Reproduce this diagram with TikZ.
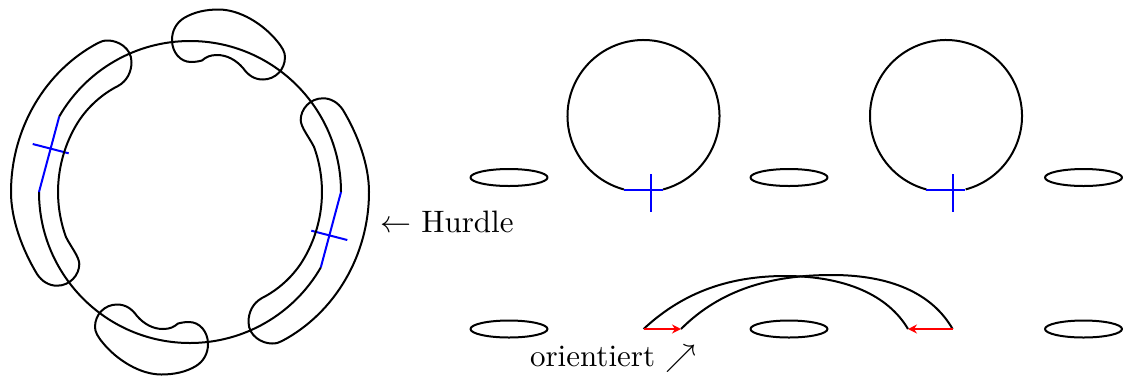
\documentclass[tikz,border=0pt]{standalone}
\usetikzlibrary{arrows.meta,calc}
\tikzset{
  curve/.style={line width=2pt,black,line join=round},
  bluecut/.style={line width=2pt,blue},
  redarrow/.style={line width=2pt,red,-{Stealth[length=9pt,width=9pt,inset=3pt]}},
  label/.style={scale=3.1,inner sep=0pt,outer sep=0pt,anchor=base west}
}
\begin{document}
\begin{tikzpicture}[x=1pt,y=1pt]
\useasboundingbox (0,0) rectangle (1123,-376);
% left diagram: two half-turn symmetric parts
\foreach \rot in {0,180}{
\begin{scope}[rotate around={\rot:(190,-192)}]
  % circle part
  \draw[curve] (190,-192) ++(0:151) arc[start angle=0,end angle=150,radius=151];
  % blue chord and tick
  \draw[bluecut] (190,-192) ++(0:151) -- ($(190,-192)+(-30:151)$);
  \draw[bluecut] (311.3,-230.7) -- (347.3,-240);
  % long band
  \draw[curve] (314,-146.9) arc[start angle=20,end angle=-30,radius=132]
     .. controls (294,-276) and (278,-290) .. (262,-298)
     .. controls (253,-303) and (248.5,-312) .. (248.5,-322)
     .. controls (248.5,-336) and (262,-343.5) .. (272,-343.5)
     .. controls (276,-343.5) and (279,-342.8) .. (282,-341)
     .. controls (335,-313) and (369,-255) .. (369,-192)
     .. controls (369,-165) and (358,-135) .. (343,-110)
     .. controls (338,-102.5) and (331,-98.3) .. (323,-98.3)
     .. controls (310,-98.3) and (300.7,-109) .. (300.7,-120)
     .. controls (300.7,-127) and (309,-137) .. (314,-146.9)
     -- cycle;
  % short band with wobbly inner side
  \draw[curve] (202,-60.5)
     .. controls (198,-61.5) and (195,-62) .. (191,-62)
     .. controls (180,-62) and (172,-52) .. (172,-40)
     .. controls (172,-31) and (176,-23) .. (184,-18)
     .. controls (194,-12) and (206,-9.5) .. (218.5,-9.5)
     .. controls (240,-9.5) and (263,-24) .. (277,-41)
     .. controls (282,-47) and (285,-52) .. (285,-57)
     .. controls (285,-70) and (275,-79.5) .. (263,-79.5)
     .. controls (254,-79.5) and (248,-75) .. (243,-68)
     .. controls (236,-60) and (227,-55) .. (217,-55)
     .. controls (210,-55) and (206,-57) .. (202,-60.5) -- cycle;
\end{scope}
}
\path (380,-232) node[label] (hurdle) {$\leftarrow$ Hurdle};
% top row
\draw[curve] (643.5,-116) ++(-75:76) arc[start angle=-75,end angle=255,radius=76];
\draw[curve] (946,-116) ++(-75:76) arc[start angle=-75,end angle=255,radius=76];
\draw[bluecut] (624,-190) -- (663,-190);
\draw[bluecut] (650.5,-174) -- (650.5,-212);
\draw[bluecut] (926,-190) -- (965,-190);
\draw[bluecut] (953,-174) -- (953,-212);
\foreach \ex/\ey in {509/-177.5,789/-177.5,1083.5/-177.5,509/-329,789/-329,1083.5/-329}{
  \draw[curve] (\ex,\ey) ellipse[x radius=38.5,y radius=8.5];
}
% lower row
\draw[curve] (643.6,-329) .. controls (680,-295) and (725,-276) .. (785,-276)
   .. controls (845,-276) and (888,-295) .. (908,-329);
\draw[curve] (681,-329) .. controls (720,-290) and (770,-275) .. (832,-275)
   .. controls (890,-275) and (932,-293) .. (952.6,-329);
\draw[redarrow] (643.6,-329) -- (681,-329);
\draw[redarrow] (952.6,-329) -- (908,-329);
\path (530,-366.5) node[label] (orient) {orientiert $\nearrow$};
\end{tikzpicture}
\end{document}
